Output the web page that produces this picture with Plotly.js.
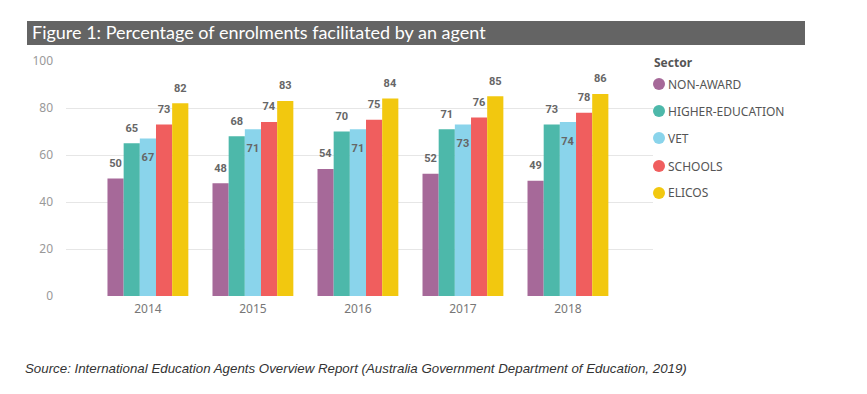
<!DOCTYPE html>
<html>
<head>
<meta charset="utf-8">
<script src="https://cdn.plot.ly/plotly-3.0.1.min.js"></script>
<style>html,body{margin:0;padding:0;background:#fff;}#chart{width:867px;height:394px;}</style>
</head>
<body>
<div id="chart"></div>
<script>
// ---- data ----
const years = ['2014', '2015', '2016', '2017', '2018'];
const sectors = ['NON-AWARD', 'HIGHER-EDUCATION', 'VET', 'SCHOOLS', 'ELICOS'];
const nonAward = [50, 48, 54, 52, 49];
const higherEducation = [65, 68, 70, 71, 73];
const vet = [67, 71, 71, 73, 74];
const schools = [73, 74, 75, 76, 78];
const elicos = [82, 83, 84, 85, 86];
const titleText = 'Figure 1: Percentage of enrolments facilitated by an agent';
const sourceText = 'Source: International Education Agents Overview Report (Australia Government Department of Education, 2019)';
const legendTitle = 'Sector';

// ---- styles ----
const seriesValues = [nonAward, higherEducation, vet, schools, elicos];
const colors = ['#A66999', '#4DB8AA', '#8AD4EB', '#F05E5E', '#F2C80F'];
const labelInside = [false, false, true, false, false];
const labelGapAbove = 2.4;   // y-units of empty space between bar top and label
const labelGapInside = 4.0;  // y-units between bar top and an inside label

const L = 66, T = 61, W = 587, H = 235;
const px = p => (p - L) / W;
const py = p => (T + H - p) / H;

const traces = [];
sectors.forEach((s, i) => {
  traces.push({
    type: 'bar', name: s, x: years, y: seriesValues[i],
    offsetgroup: s, marker: {color: colors[i], line: {width: 0}},
    showlegend: false, hoverinfo: 'x+y+name'
  });
});
// transparent spacer bars (same offset group) carrying the data labels
sectors.forEach((s, i) => {
  const gap = labelInside[i] ? -labelGapInside : labelGapAbove;
  traces.push({
    type: 'bar', name: s + ' label', x: years,
    y: seriesValues[i].map(() => gap), base: seriesValues[i],
    offsetgroup: s, marker: {color: 'rgba(0,0,0,0)', line: {width: 0}},
    text: seriesValues[i].map(String), textposition: 'outside',
    constraintext: 'none', cliponaxis: false,
    textfont: {family: 'Roboto', size: 11, color: '#666666', weight: 700},
    showlegend: false, hoverinfo: 'skip'
  });
});

const shapes = [{
  type: 'rect', xref: 'paper', yref: 'paper', layer: 'below',
  x0: px(27), x1: px(805), y0: py(45), y1: py(21),
  fillcolor: '#646464', line: {width: 0}
}];
const annotations = [{
  xref: 'paper', yref: 'paper', x: px(652), y: py(62), xanchor: 'left', yanchor: 'middle',
  text: '<b>' + legendTitle + '</b>', showarrow: false,
  font: {family: 'Noto Sans', size: 12, color: '#555555'}
}, {
  xref: 'paper', yref: 'paper', x: px(23), y: py(368), xanchor: 'left', yanchor: 'middle',
  text: sourceText, showarrow: false,
  font: {family: 'Liberation Sans', size: 13.3, color: '#333333', style: 'italic'}
}];
const legendY = [84, 111, 138, 166, 193];
sectors.forEach((s, i) => {
  shapes.push({
    type: 'circle', xref: 'paper', yref: 'paper',
    x0: px(653), x1: px(665), y0: py(legendY[i] + 6), y1: py(legendY[i] - 6),
    fillcolor: colors[i], line: {width: 0}
  });
  annotations.push({
    xref: 'paper', yref: 'paper', x: px(666), y: py(legendY[i]), xanchor: 'left', yanchor: 'middle',
    text: s, showarrow: false,
    font: {family: 'Noto Sans', size: 12, color: '#555555'}
  });
});

const layout = {
  width: 867, height: 394,
  margin: {l: L, r: 867 - L - W, t: T, b: 394 - T - H, pad: 0},
  paper_bgcolor: '#ffffff', plot_bgcolor: '#ffffff',
  barmode: 'group', bargap: 0.23, bargroupgap: 0,
  showlegend: false,
  title: {
    text: titleText, xref: 'container', yref: 'container',
    x: 32 / 867, xanchor: 'left', y: 1 - 33 / 394, yanchor: 'middle',
    font: {family: 'Lato', size: 18, color: '#ffffff'}
  },
  xaxis: {
    type: 'category', range: [-0.78, 4.81], showgrid: false, zeroline: false,
    showline: false, ticks: '', ticklabelstandoff: 4,
    tickfont: {family: 'Noto Sans', size: 12, color: '#777777'}, fixedrange: true
  },
  yaxis: {
    range: [0, 100], dtick: 20, tick0: 0, showgrid: true, gridcolor: '#e6e6e6', gridwidth: 1,
    zeroline: false, showline: false, ticks: '',
    ticklabelstandoff: 12,
    tickfont: {family: 'Noto Sans', size: 12, color: '#999999'}, fixedrange: true
  },
  shapes: shapes,
  annotations: annotations,
  font: {family: 'Noto Sans'}
};

Plotly.newPlot('chart', traces, layout, {displayModeBar: false, staticPlot: true});
</script>
</body>
</html>
